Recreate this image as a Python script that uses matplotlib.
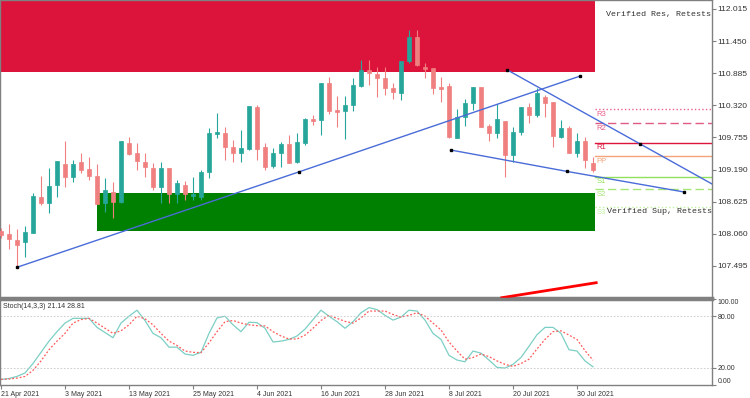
import numpy as np
import matplotlib
matplotlib.use("Agg")
import matplotlib.pyplot as plt

# OHLC, one bar per trading day (21 Apr 2021 .. 3 Aug 2021)
opens = [108.110, 108.058, 107.952, 107.917, 108.075, 108.708, 108.603, 108.919, 109.289, 109.060,
         109.324, 109.201, 109.078, 108.603, 108.796, 108.620, 109.658, 109.482, 109.324, 109.218,
         108.884, 109.218, 108.761, 108.919, 108.726, 108.708, 109.148, 109.816, 109.834, 109.588,
         109.482, 109.553, 110.291, 109.588, 109.254, 109.482, 109.641, 109.324, 109.658, 110.080,
         110.063, 110.713, 110.238, 110.221, 110.326, 110.661, 110.942, 110.872, 110.801, 110.625,
         110.537, 111.100, 111.522, 110.995, 110.977, 110.625, 110.661, 109.746, 110.115, 110.362,
         110.643, 109.957, 109.834, 110.045, 109.447, 109.852, 110.291, 110.151, 110.467, 110.379,
         109.764, 109.922, 109.482, 109.693, 109.306]
highs = [108.163, 108.234, 108.146, 108.198, 108.779, 109.078, 109.218, 109.342, 109.693, 109.359,
         109.482, 109.412, 109.289, 109.043, 108.972, 109.693, 109.764, 109.658, 109.482, 109.306,
         109.324, 109.218, 109.007, 108.990, 109.060, 109.183, 109.922, 110.186, 109.939, 109.711,
         109.887, 110.309, 110.326, 109.658, 109.570, 109.676, 109.799, 109.834, 110.098, 110.151,
         110.713, 110.819, 110.485, 110.485, 110.801, 111.118, 111.118, 110.995, 110.995, 110.713,
         111.100, 111.645, 111.645, 111.065, 110.977, 110.819, 110.713, 110.256, 110.432, 110.643,
         110.643, 109.992, 110.344, 110.045, 109.939, 110.291, 110.362, 110.625, 110.502, 110.379,
         110.063, 109.957, 109.834, 109.764, 109.412]
lows = [107.987, 107.794, 107.477, 107.653, 108.075, 108.568, 108.427, 108.708, 108.884, 108.972,
        109.130, 109.007, 108.585, 108.445, 108.339, 108.603, 109.447, 109.183, 109.060, 108.831,
        108.603, 108.603, 108.603, 108.656, 108.656, 108.656, 109.043, 109.746, 109.359, 109.324,
        109.324, 109.535, 109.359, 109.183, 109.218, 109.236, 109.306, 109.306, 109.623, 109.975,
        109.799, 110.168, 109.939, 109.728, 110.221, 110.643, 110.678, 110.467, 110.502, 110.432,
        110.414, 111.065, 111.012, 110.801, 110.520, 110.379, 109.746, 109.746, 109.957, 110.238,
        109.939, 109.693, 109.746, 109.060, 109.324, 109.799, 110.010, 110.115, 110.115, 109.588,
        109.746, 109.482, 109.412, 109.218, 109.148]
closes = [108.040, 107.970, 107.864, 108.093, 108.726, 108.603, 108.902, 109.342, 109.060, 109.289,
          109.183, 109.078, 108.585, 108.831, 108.620, 109.693, 109.465, 109.342, 109.236, 108.884,
          109.218, 108.761, 108.955, 108.761, 108.761, 109.148, 109.834, 109.852, 109.588, 109.482,
          109.570, 110.309, 109.553, 109.236, 109.482, 109.641, 109.306, 109.676, 110.080, 110.045,
          110.713, 110.221, 110.203, 110.326, 110.678, 110.942, 110.889, 110.801, 110.625, 110.555,
          111.100, 111.522, 111.030, 110.960, 110.625, 110.608, 109.764, 110.115, 110.362, 110.643,
          109.939, 109.834, 110.080, 109.447, 109.852, 110.291, 110.151, 110.537, 110.362, 109.781,
          109.922, 109.482, 109.693, 109.359, 109.183]

# Stochastic(14,3,3)
stoch_k = [6.5, 7.5, 10, 14, 25, 38, 51, 62, 72, 77.5, 77.5, 77.5, 67, 61, 55, 72, 80, 87, 75, 60,
           55, 44, 44, 36, 34.5, 38, 60, 78, 80, 70, 62, 73, 72.5, 66, 50, 51, 53, 57, 65, 76,
           87, 80, 73.6, 66, 73.6, 84, 90, 87.7, 81, 75.5, 79, 87, 86, 75.5, 60, 53, 34.5, 29, 27, 39.5,
           37, 29, 20.5, 19.7, 24, 32, 45, 58.5, 67, 67, 60, 41, 39.5, 28, 21.14]
stoch_d = [6.5, 7, 8, 10, 17, 28, 41, 51, 60, 72, 76, 77.5, 72, 66, 60, 63, 70, 80, 77, 70,
           60, 51, 46, 39.5, 38, 37.6, 49, 62, 73.6, 75, 72, 70, 69, 68.7, 62, 57, 53.5, 53.5, 58, 66,
           75, 81, 77.5, 74, 72, 78, 86, 86, 86, 82, 79, 81, 84, 80, 72, 64, 50, 39.5, 30, 32,
           36, 33, 28, 24, 21.6, 25, 30, 42, 53, 62, 63, 58, 53, 40, 28.81]

date_ticks = [0, 8, 16, 24, 32, 40, 48, 56, 64, 72]
date_labels = ["21 Apr 2021", "3 May 2021", "13 May 2021", "25 May 2021", "4 Jun 2021",
               "16 Jun 2021", "28 Jun 2021", "8 Jul 2021", "20 Jul 2021", "30 Jul 2021"]
price_ticks = [107.495, 108.060, 108.625, 109.190, 109.755, 110.320, 110.885, 111.450, 112.015]

# supply / demand zones: (start bar, end bar, low, high)
res_zone = (-1, 74.25, 110.907, 112.6)
sup_zone = (12, 74.25, 108.110, 108.779)

# trendlines: (bar, price) points
rise_line = ([2, 37.2, 72.4], [107.472, 109.148, 110.836])
fall_upper = ([63.3, 79.9], [110.942, 109.641])
fall_lower = ([56.2, 70.8, 85.4], [109.535, 109.157, 108.796])
red_line = ([62.6, 74.4], [106.937, 107.201])

# pivot levels
piv_names = ["R3", "R2", "R1", "PP", "S1", "S2", "S3"]
piv_values = [110.251, 110.005, 109.664, 109.430, 109.066, 108.844, 108.533]
piv_colors = ["#e8608a", "#e05a82", "#dc143c", "#f4a37a", "#8fe05a", "#a6e676", "#c0f0a0"]
piv_styles = [":", (0, (6, 3)), "-", "-", "-", (0, (6, 3)), ":"]

UP = "#26a69a"
DN = "#f08080"
n = len(opens)
x = np.arange(n)
xmin, xmax = -0.125, 88.875

fig = plt.figure(figsize=(7.5, 3.98), dpi=100)
ax = fig.add_axes([0, 100 / 398, 712 / 750, 298 / 398])
ax2 = fig.add_axes([0, 13 / 398, 712 / 750, 86 / 398])

# zones
ax.fill_between([res_zone[0], res_zone[1]], res_zone[2], res_zone[3], color="#dc143c", lw=0, zorder=1)
ax.fill_between([sup_zone[0], sup_zone[1]], sup_zone[2], sup_zone[3], color="#008000", lw=0, zorder=1)

# candles
o = np.array(opens); c = np.array(closes)
cols = [UP if cc >= oo else DN for oo, cc in zip(o, c)]
ax.vlines(x, lows, highs, colors=cols, lw=0.8, zorder=3)
bot = np.minimum(o, c)
hgt = np.maximum(np.abs(c - o), 0.03)
ax.bar(x, hgt, bottom=bot, width=0.62, color=cols, edgecolor=cols, lw=0.5, zorder=3)

# trendlines
blue = "#4a6cd8"
ax.plot(*rise_line, color=blue, lw=1, zorder=4)
ax.plot(*fall_lower, color=blue, lw=1, zorder=4)
slope = (fall_upper[1][1] - fall_upper[1][0]) / (fall_upper[0][1] - fall_upper[0][0])
ax.plot([fall_upper[0][0], xmax + 1], [fall_upper[1][0], fall_upper[1][0] + slope * (xmax + 1 - fall_upper[0][0])],
        color=blue, lw=1, zorder=4)
for xs, ys in (rise_line, fall_upper, fall_lower):
    ax.plot(xs, ys, ls="none", marker="s", ms=2, color="black", zorder=5)
ax.plot(*red_line, color="#ff0000", lw=2, zorder=4)

# pivots
for name, val, col, ls in zip(piv_names, piv_values, piv_colors, piv_styles):
    ax.plot([74.3, xmax], [val, val], color=col, ls=ls, lw=1, zorder=2)
    ax.text(74.4, val - 0.03, name, color=col, fontsize=5.5, va="top", ha="left",
            family="Liberation Sans", zorder=6)

ax.text(75.6, 111.91, "Verified Res, Retests", family="Liberation Mono", fontsize=6,
        color="#333333", va="center", ha="left", clip_on=True, zorder=6)
ax.text(75.7, 108.445, "Verified Sup, Retests", family="Liberation Mono", fontsize=6,
        color="#333333", va="center", ha="left", clip_on=True, zorder=6)

ax.set_xlim(xmin, xmax)
ax.set_ylim(106.932, 112.173)
ax.set_xticks([])
ax.yaxis.tick_right()
ax.set_yticks(price_ticks)
ax.set_yticklabels([f"{p:.3f}" for p in price_ticks])
ax.tick_params(axis="y", length=3, width=0.8, color="#808080", labelsize=6, pad=1, labelcolor="#333333")
for lab in ax.get_yticklabels():
    lab.set_family("Liberation Sans")
for s in ("left", "right", "top"):
    ax.spines[s].set_color("#808080")
    ax.spines[s].set_linewidth(1)
ax.spines["bottom"].set_color("#808080")
ax.spines["bottom"].set_linewidth(2.5)

# stochastic panel
ax2.plot(x, stoch_k, color="#7ccfc4", lw=0.9)
ax2.plot(x, stoch_d, color="#ff5a5a", lw=0.9, ls=(0, (1.5, 1.5)))
for lvl in (20, 80):
    ax2.axhline(lvl, color="#c8c8c8", lw=0.6, ls=(0, (2, 2)))
ax2.text(0.3, 95, "Stoch(14,3,3) 21.14 28.81", fontsize=5, color="#333333", va="top",
         family="Liberation Sans")
ax2.set_xlim(xmin, xmax)
ax2.set_ylim(0, 100)
ax2.yaxis.tick_right()
ax2.set_yticks([0, 20, 80, 100])
ax2.set_yticklabels(["0.00", "20.00", "80.00", "100.00"])
ax2.tick_params(axis="y", length=3, width=0.8, color="#808080", labelsize=5, pad=1, labelcolor="#333333")
ylabs = ax2.get_yticklabels()
ylabs[0].set_va("bottom")
ylabs[-1].set_va("top")
ax2.set_xticks(date_ticks)
ax2.set_xticklabels(date_labels, ha="left")
ax2.tick_params(axis="x", length=3, width=0.8, color="#808080", labelsize=5, pad=1, labelcolor="#333333")
for lab in ax2.get_xticklabels() + ax2.get_yticklabels():
    lab.set_family("Liberation Sans")
for s in ("left", "right", "bottom"):
    ax2.spines[s].set_color("#808080")
    ax2.spines[s].set_linewidth(1)
ax2.spines["top"].set_color("#808080")
ax2.spines["top"].set_linewidth(2.5)

fig.savefig("out.png", dpi=100)
